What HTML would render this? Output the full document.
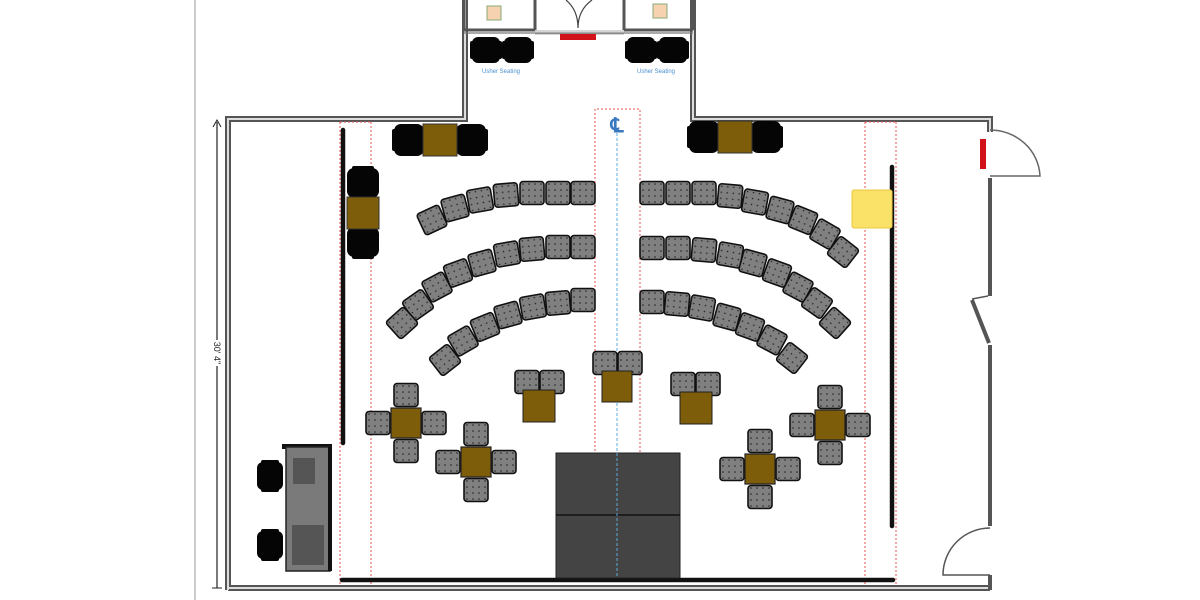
<!DOCTYPE html>
<html><head><meta charset="utf-8"><style>
html,body{margin:0;padding:0;background:#fff;width:1200px;height:600px;overflow:hidden}
svg{display:block}
</style></head><body>
<svg width="1200" height="600" viewBox="0 0 1200 600" xmlns="http://www.w3.org/2000/svg" font-family="Liberation Sans, sans-serif">
<defs>
<pattern id="dots" width="6" height="6" patternUnits="userSpaceOnUse"><rect width="6" height="6" fill="#808080"/><circle cx="3" cy="3" r="0.8" fill="#222"/></pattern>
<g id="ch"><rect x="-12" y="-11.5" width="24" height="23" rx="3" fill="url(#dots)" stroke="#111" stroke-width="1.6"/></g>
<g id="bch"><rect x="-14" y="-13" width="28" height="26" rx="6" fill="#050505"/><rect x="-16" y="-9" width="4" height="18" rx="2" fill="#050505"/><rect x="12" y="-9" width="4" height="18" rx="2" fill="#050505"/></g>
<g id="bchL"><rect x="-15" y="-16" width="30" height="32" rx="7" fill="#050505"/><rect x="-17" y="-11" width="4" height="22" rx="2" fill="#050505"/><rect x="13" y="-11" width="4" height="22" rx="2" fill="#050505"/></g>
<g id="tbl"><rect x="-15" y="-15" width="30" height="30" fill="#7d5c0a" stroke="#222" stroke-width="1.2"/></g>
<g id="cross">
<use href="#ch" x="0" y="-28"/><use href="#ch" x="0" y="28"/><use href="#ch" x="-28" y="0"/><use href="#ch" x="28" y="0"/><use href="#tbl"/>
</g>
</defs>

<line x1="195" y1="0" x2="195" y2="600" stroke="#bbb" stroke-width="1.5"/>

<g fill="none" stroke="#555" stroke-width="6">
<path d="M228 590 V119 H465 V0"/>
<path d="M693 0 V119 H990 V132"/>
<path d="M228 588 H990"/>
</g>
<g fill="none" stroke="#ddd" stroke-width="2">
<path d="M228 590 V119 H465 V0"/>
<path d="M693 0 V119 H990 V132"/>
<path d="M228 588 H990"/>
</g>
<g stroke="#555" stroke-width="4" fill="none">
<line x1="990" y1="178" x2="990" y2="296"/>
<line x1="990" y1="345" x2="990" y2="526"/>
<line x1="990" y1="575" x2="990" y2="590"/>
<line x1="972" y1="300" x2="989" y2="343"/>
</g>
<path d="M972 299 L988 296" stroke="#555" stroke-width="1.5"/>
<path d="M990 130 A50 48 0 0 1 1040 176 H990" fill="none" stroke="#666" stroke-width="1.5"/>
<path d="M990 528 A47 47 0 0 0 943 575 H990" fill="none" stroke="#555" stroke-width="1.5"/>
<rect x="980" y="139" width="6" height="30" fill="#d2121a"/>

<g fill="none" stroke="#555" stroke-width="3">
<path d="M464 30 V0 M535 30 V0 M624 30 V0 M693 30 V0"/>
<path d="M464 30 H535 M624 30 H693"/>
</g>
<line x1="535" y1="31" x2="624" y2="31" stroke="#aaa" stroke-width="1"/>
<line x1="535" y1="34" x2="624" y2="34" stroke="#aaa" stroke-width="1"/>
<line x1="464" y1="33" x2="693" y2="33" stroke="#777" stroke-width="1.2"/>
<rect x="487" y="6" width="14" height="14" fill="#f6d2b0" stroke="#8a7" stroke-width="1"/>
<rect x="653" y="4" width="14" height="14" fill="#f6d2b0" stroke="#8a7" stroke-width="1"/>
<path d="M566 0 Q578 10 578 28 M592 0 Q578 10 578 28" fill="none" stroke="#444" stroke-width="1.2"/>
<rect x="560" y="34" width="36" height="6" fill="#d2121a"/>
<use href="#bch" x="486" y="50"/><use href="#bch" x="518" y="50"/>
<use href="#bch" x="641" y="50"/><use href="#bch" x="673" y="50"/>
<text x="501" y="73" font-size="6" fill="#4a90d0" text-anchor="middle">Usher Seating</text>
<text x="656" y="73" font-size="6" fill="#4a90d0" text-anchor="middle">Usher Seating</text>

<line x1="217" y1="122" x2="217" y2="340" stroke="#222" stroke-width="1.2"/>
<line x1="217" y1="366" x2="217" y2="588" stroke="#222" stroke-width="1.2"/>
<path d="M213 127 L217 120 L221 127" fill="none" stroke="#222"/>
<path d="M212 588 H222" stroke="#222"/>
<text x="0" y="0" font-size="9" fill="#222" text-anchor="middle" transform="translate(214,353) rotate(90)">30' 4"</text>

<g stroke="#e05050" stroke-width="1" stroke-dasharray="2,2" fill="none">
<line x1="340" y1="122" x2="340" y2="585"/><line x1="371" y1="122" x2="371" y2="585"/>
<line x1="865" y1="122" x2="865" y2="585"/><line x1="896" y1="122" x2="896" y2="585"/>
<line x1="340" y1="122" x2="371" y2="122"/><line x1="865" y1="122" x2="896" y2="122"/>
<path d="M595 455 V109 H640 V455"/>
</g>
<line x1="617" y1="133" x2="617" y2="580" stroke="#5aaad8" stroke-width="1" stroke-dasharray="3,2"/>
<text x="617" y="132" font-size="20" font-weight="bold" fill="#3a78c0" text-anchor="middle">℄</text>

<g stroke="#111" stroke-width="4.5" stroke-dasharray="3.5,1" stroke-linecap="round" fill="none">
<line x1="343" y1="130" x2="343" y2="443"/>
<line x1="892" y1="167" x2="892" y2="526"/>
<line x1="342" y1="580" x2="893" y2="580"/>
</g>

<rect x="852" y="190" width="40" height="38" rx="2" fill="#f9e267" stroke="#e8c840"/>

<use href="#bchL" x="409" y="140"/><use href="#bchL" x="471" y="140"/>
<rect x="423" y="124" width="34" height="32" fill="#7d5c0a" stroke="#333"/>
<use href="#bchL" x="704" y="137"/><use href="#bchL" x="766" y="137"/>
<rect x="718" y="121" width="34" height="32" fill="#7d5c0a" stroke="#333"/>
<use href="#bchL" transform="translate(363,183) rotate(90)"/><use href="#bchL" transform="translate(363,242) rotate(90)"/>
<rect x="347" y="197" width="32" height="32" fill="#7d5c0a" stroke="#333"/>

<use href="#ch" transform="translate(583,193)"/><use href="#ch" transform="translate(558,193)"/><use href="#ch" transform="translate(532,193)"/><use href="#ch" transform="translate(506,195) rotate(-5)"/><use href="#ch" transform="translate(480,200) rotate(-10)"/><use href="#ch" transform="translate(455,208) rotate(-15)"/><use href="#ch" transform="translate(432,220) rotate(-25)"/>
<use href="#ch" transform="translate(583,247)"/><use href="#ch" transform="translate(558,247)"/><use href="#ch" transform="translate(532,249) rotate(-5)"/><use href="#ch" transform="translate(507,254) rotate(-10)"/><use href="#ch" transform="translate(482,263) rotate(-15)"/><use href="#ch" transform="translate(458,273) rotate(-20)"/><use href="#ch" transform="translate(437,287) rotate(-28)"/><use href="#ch" transform="translate(418,305) rotate(-35)"/><use href="#ch" transform="translate(402,323) rotate(-42)"/>
<use href="#ch" transform="translate(583,300)"/><use href="#ch" transform="translate(558,303) rotate(-5)"/><use href="#ch" transform="translate(533,307) rotate(-10)"/><use href="#ch" transform="translate(508,315) rotate(-15)"/><use href="#ch" transform="translate(485,327) rotate(-22)"/><use href="#ch" transform="translate(463,341) rotate(-30)"/><use href="#ch" transform="translate(445,360) rotate(-38)"/>
<use href="#ch" transform="translate(652,193)"/><use href="#ch" transform="translate(678,193)"/><use href="#ch" transform="translate(704,193)"/><use href="#ch" transform="translate(730,196) rotate(5)"/><use href="#ch" transform="translate(755,202) rotate(10)"/><use href="#ch" transform="translate(780,210) rotate(15)"/><use href="#ch" transform="translate(803,220) rotate(22)"/><use href="#ch" transform="translate(825,234) rotate(30)"/><use href="#ch" transform="translate(843,252) rotate(38)"/>
<use href="#ch" transform="translate(652,248)"/><use href="#ch" transform="translate(678,248)"/><use href="#ch" transform="translate(704,250) rotate(5)"/><use href="#ch" transform="translate(730,255) rotate(10)"/><use href="#ch" transform="translate(753,263) rotate(15)"/><use href="#ch" transform="translate(777,273) rotate(20)"/><use href="#ch" transform="translate(798,287) rotate(28)"/><use href="#ch" transform="translate(817,303) rotate(35)"/><use href="#ch" transform="translate(835,323) rotate(42)"/>
<use href="#ch" transform="translate(652,302)"/><use href="#ch" transform="translate(677,304) rotate(5)"/><use href="#ch" transform="translate(702,308) rotate(10)"/><use href="#ch" transform="translate(727,317) rotate(15)"/><use href="#ch" transform="translate(750,327) rotate(20)"/><use href="#ch" transform="translate(772,340) rotate(28)"/><use href="#ch" transform="translate(792,358) rotate(38)"/>

<use href="#ch" x="527" y="382"/><use href="#ch" x="552" y="382"/><rect x="523" y="390" width="32" height="32" fill="#7d5c0a" stroke="#222"/>
<use href="#ch" x="605" y="363"/><use href="#ch" x="630" y="363"/><rect x="602" y="371" width="30" height="31" fill="#7d5c0a" stroke="#222"/>
<use href="#ch" x="683" y="384"/><use href="#ch" x="708" y="384"/><rect x="680" y="392" width="32" height="32" fill="#7d5c0a" stroke="#222"/>

<use href="#cross" x="406" y="423"/>
<use href="#cross" x="476" y="462"/>
<use href="#cross" x="830" y="425"/>
<use href="#cross" x="760" y="469"/>

<rect x="556" y="453" width="124" height="125" fill="#444" stroke="#222"/>
<line x1="556" y1="515" x2="680" y2="515" stroke="#111" stroke-width="1.5"/>
<line x1="617" y1="453" x2="617" y2="578" stroke="#5aaad8" stroke-width="1" stroke-dasharray="3,2"/>

<rect x="282" y="444" width="50" height="5" fill="#111"/>
<rect x="286" y="447" width="44" height="124" fill="#7a7a7a" stroke="#222" stroke-width="1.5"/>
<rect x="328" y="447" width="4" height="124" fill="#111"/>
<rect x="293" y="458" width="22" height="26" fill="#555"/>
<rect x="292" y="525" width="32" height="40" fill="#555"/>
<use href="#bch" transform="translate(270,476) rotate(-90)"/>
<use href="#bch" transform="translate(270,545) rotate(-90)"/>
</svg>
</body></html>
